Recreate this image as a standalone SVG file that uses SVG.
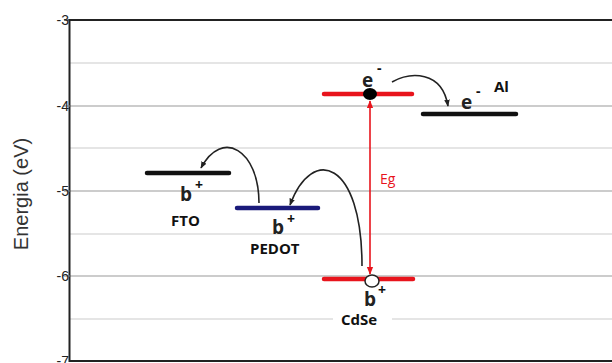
<svg xmlns="http://www.w3.org/2000/svg" width="612" height="363" viewBox="0 0 612 363">
  <style>
    .grid-major { stroke: #9a9a9a; stroke-width: 1.2; }
    .grid-minor { stroke: #dcdcdc; stroke-width: 1.5; }
    .frame { stroke: #222; stroke-width: 2; fill: none; }
    .tick { font-family: "Liberation Sans", Arial, sans-serif; font-size: 14px; fill: #222; text-anchor: end; }
    .title { font-family: "Liberation Sans", Arial, sans-serif; font-size: 20px; fill: #333; }
    .lbl { font-family: "Open Sans", "Liberation Sans", sans-serif; font-weight: bold; font-size: 15px; fill: #111; }
    .car { font-family: "Open Sans", "Liberation Sans", sans-serif; font-weight: bold; font-size: 19px; fill: #222; }
    .sup { font-family: "Open Sans", "Liberation Sans", sans-serif; font-weight: bold; font-size: 14px; fill: #111; }
    .level { stroke-width: 4.5; stroke-linecap: round; }
    .hop { fill: none; stroke: #222; stroke-width: 1.6; }
  </style>
  <defs>
    <marker id="ah" viewBox="0 0 10 10" refX="9" refY="5" markerWidth="7" markerHeight="7" markerUnits="userSpaceOnUse" orient="auto">
      <path d="M0,1 L10,5 L0,9 Z" fill="#222"/>
    </marker>
    <marker id="ahr" viewBox="0 0 10 10" refX="9" refY="5" markerWidth="8" markerHeight="8" markerUnits="userSpaceOnUse" orient="auto-start-reverse">
      <path d="M0,1 L10,5 L0,9 Z" fill="#e8141c"/>
    </marker>
  </defs>
  <rect width="612" height="363" fill="#fff"/>

  <!-- grid -->
  <g id="grid">
    <line class="grid-minor" x1="70" y1="63" x2="612" y2="63"/>
    <line class="grid-major" x1="70" y1="106" x2="612" y2="106"/>
    <line class="grid-minor" x1="70" y1="148" x2="612" y2="148"/>
    <line class="grid-major" x1="70" y1="191" x2="612" y2="191"/>
    <line class="grid-minor" x1="70" y1="234" x2="612" y2="234"/>
    <line class="grid-major" x1="70" y1="276" x2="612" y2="276"/>
    <line class="grid-minor" x1="70" y1="319" x2="612" y2="319"/>
  </g>

  <!-- axes -->
  <g id="axes">
    <path class="frame" d="M612,20 H69.5 V361 H612"/>
    <line x1="64" y1="20" x2="70" y2="20" stroke="#222" stroke-width="1"/>
    <line x1="64" y1="106" x2="70" y2="106" stroke="#888" stroke-width="1"/>
    <line x1="64" y1="191" x2="70" y2="191" stroke="#888" stroke-width="1"/>
    <line x1="64" y1="276" x2="70" y2="276" stroke="#888" stroke-width="1"/>
    <text class="tick" x="69" y="25">-3</text>
    <text class="tick" x="69" y="111">-4</text>
    <text class="tick" x="69" y="196">-5</text>
    <text class="tick" x="69" y="281">-6</text>
    <text class="tick" x="69" y="366">-7</text>
    <text class="title" transform="translate(28,194) rotate(-90)" text-anchor="middle">Energia (eV)</text>
  </g>

  <!-- FTO -->
  <g id="fto">
    <line class="level" x1="147" y1="173" x2="229" y2="173" stroke="#111"/>
    <text class="car" x="180" y="201">b</text>
    <text class="sup" x="195" y="190">+</text>
    <text class="lbl" x="171" y="226">FTO</text>
  </g>

  <!-- PEDOT -->
  <g id="pedot">
    <line class="level" x1="237" y1="208" x2="318" y2="208" stroke="#1a1a7a"/>
    <text class="car" x="272" y="234">b</text>
    <text class="sup" x="287" y="224">+</text>
    <text class="lbl" x="250" y="254">PEDOT</text>
  </g>

  <!-- CdSe -->
  <g id="cdse">
    <line class="level" x1="324" y1="94" x2="412" y2="94" stroke="#e8141c"/>
    <line class="level" x1="324" y1="279" x2="413" y2="279" stroke="#e8141c"/>
    <ellipse cx="370" cy="94" rx="7" ry="6" fill="#000"/>
    <ellipse cx="372" cy="281" rx="7" ry="6" fill="#fff" stroke="#222" stroke-width="1.5"/>
    <text class="car" x="362" y="87">e</text>
    <text class="sup" x="377" y="73">-</text>
    <text class="car" x="364" y="306">b</text>
    <text class="sup" x="378" y="295">+</text>
    <rect x="333" y="312" width="59" height="13" fill="#fff"/>
    <text class="lbl" x="341" y="325">CdSe</text>
    <text x="380" y="184" font-family="Open Sans, Liberation Sans, sans-serif" font-size="14" fill="#e8141c">Eg</text>
  </g>

  <!-- Al -->
  <g id="al">
    <line class="level" x1="423" y1="114" x2="516" y2="114" stroke="#111"/>
    <text class="car" x="461" y="109">e</text>
    <text class="sup" x="476" y="96">-</text>
    <text class="lbl" x="494" y="92">Al</text>
  </g>

  <!-- transfers -->
  <g id="connectors">
    <line x1="370" y1="274" x2="370" y2="101" stroke="#e8141c" stroke-width="1.6" marker-start="url(#ahr)" marker-end="url(#ahr)"/>
    <path class="hop" d="M392,82 C410,72 442,70 448,106" marker-end="url(#ah)"/>
    <path class="hop" d="M259,203 C259,150 222,128 201,168" marker-end="url(#ah)"/>
    <path class="hop" d="M362,266 C362,160 312,145 290,205" marker-end="url(#ah)"/>
  </g>
</svg>
